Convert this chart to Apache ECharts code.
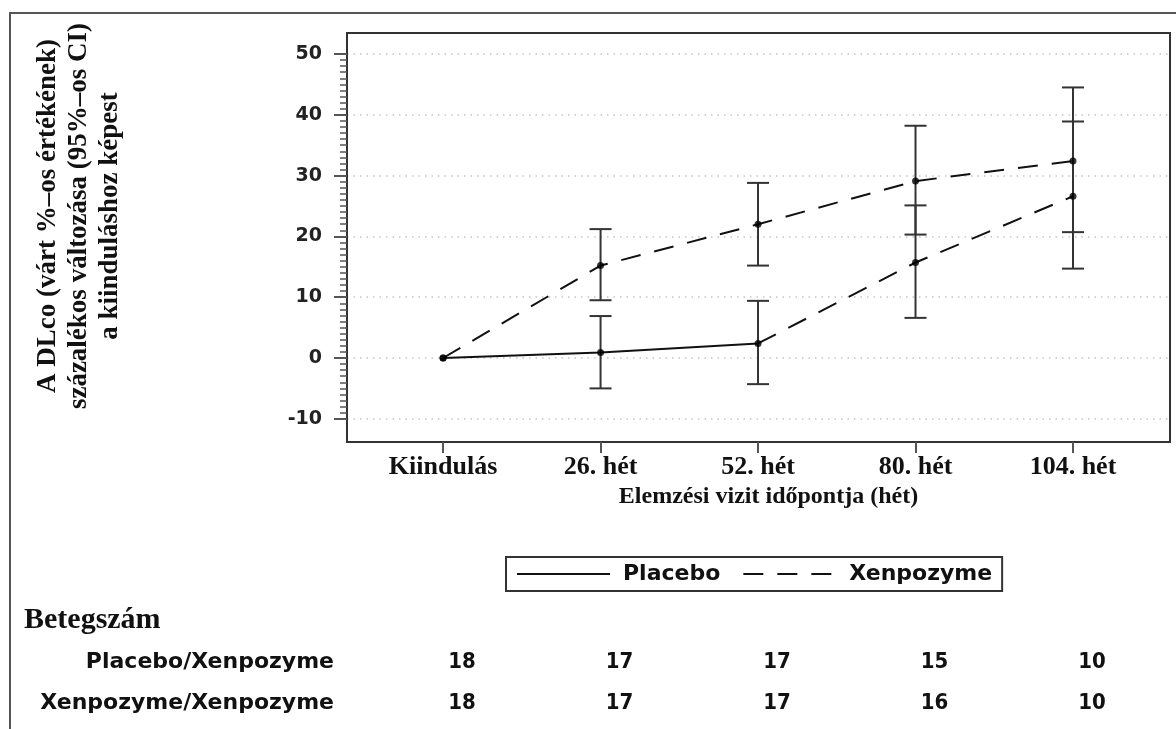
<!DOCTYPE html>
<html>
<head>
<meta charset="utf-8">
<script src="https://cdn.jsdelivr.net/npm/echarts@6/dist/echarts.min.js"></script>
<style>
  html, body { margin: 0; padding: 0; background: #fff; }
  #chart { width: 1176px; height: 729px; }
</style>
</head>
<body>
<div id="chart"></div>
<script>
// visits on the x axis
const visits = ['Kiindulás', '26. hét', '52. hét', '80. hét', '104. hét'];
const yTicks = [-10, 0, 10, 20, 30, 40, 50];

// Placebo/Xenpozyme group (switches to Xenpozyme after week 52)
const placeboMean = [0, 0.9, 2.4, 15.7, 26.6];
const placeboLow = [null, -5.0, -4.3, 6.6, 14.7];
const placeboHigh = [null, 6.9, 9.4, 25.1, 38.9];

// Xenpozyme/Xenpozyme group
const xenMean = [0, 15.2, 22.0, 29.1, 32.4];
const xenLow = [null, 9.5, 15.2, 20.3, 20.7];
const xenHigh = [null, 21.2, 28.8, 38.2, 44.5];

// patient counts table
const tableRows = ['Placebo/Xenpozyme', 'Xenpozyme/Xenpozyme'];
const placeboCounts = [18, 17, 17, 15, 10];
const xenCounts = [18, 17, 17, 16, 10];

const serif = "'Liberation Serif', 'Times New Roman', serif";
const sans = "'DejaVu Sans', sans-serif";
const sansNarrow = "'DejaVu Sans Condensed', 'Liberation Sans Narrow', 'DejaVu Sans', sans-serif";
const dash = [20, 14];

const chart = echarts.init(document.getElementById('chart'));

const toPoints = (arr, from, to) =>
    arr.map((v, i) => [i, v]).slice(from, to);

const errData = [];
visits.forEach((v, i) => {
    if (placeboLow[i] !== null) errData.push([i, placeboLow[i], placeboHigh[i]]);
    if (xenLow[i] !== null) errData.push([i, xenLow[i], xenHigh[i]]);
});

function renderErrorBar(params, api) {
    const x = api.value(0);
    const lo = api.coord([x, api.value(1)]);
    const hi = api.coord([x, api.value(2)]);
    const w = 11;
    const style = { stroke: '#333', lineWidth: 2 };
    return {
        type: 'group',
        children: [
            { type: 'line', shape: { x1: lo[0], y1: lo[1], x2: hi[0], y2: hi[1] }, style: style },
            { type: 'line', shape: { x1: hi[0] - w, y1: hi[1], x2: hi[0] + w, y2: hi[1] }, style: style },
            { type: 'line', shape: { x1: lo[0] - w, y1: lo[1], x2: lo[0] + w, y2: lo[1] }, style: style }
        ]
    };
}

const option = {
    animation: false,
    backgroundColor: '#fff',
    grid: { left: 347, right: 6, top: 54, bottom: 310.2 },
    legend: {
        data: ['Placebo', 'Xenpozyme'],
        left: 506,
        top: 557,
        padding: [6, 10, 6, 10],
        borderColor: '#333',
        borderWidth: 2,
        itemWidth: 93,
        itemHeight: 14,
        itemGap: 22,
        itemStyle: { opacity: 0 },
        textStyle: { fontFamily: sans, fontWeight: 'bold', fontSize: 22, color: '#111', padding: [0, 0, 0, 8] }
    },
    xAxis: {
        type: 'value',
        min: -0.61,
        max: 4.616,
        offset: 23.2,
        axisLine: { show: false, onZero: false },
        splitLine: { show: false },
        axisTick: { customValues: [0, 1, 2, 3, 4], length: 11, lineStyle: { color: '#555', width: 2 } },
        axisLabel: {
            customValues: [0, 1, 2, 3, 4],
            formatter: v => visits[v],
            margin: 12,
            fontFamily: serif,
            fontWeight: 'bold',
            fontSize: 26,
            color: '#111'
        },
        name: 'Elemzési vizit időpontja (hét)',
        nameLocation: 'middle',
        nameGap: 42,
        nameTextStyle: { fontFamily: serif, fontWeight: 'bold', fontSize: 24, color: '#111', padding: [0, 0, 0, 20] }
    },
    yAxis: {
        type: 'value',
        min: -10,
        max: 50,
        interval: 10,
        axisLine: { show: false, onZero: false },
        axisTick: { show: true, length: 13, lineStyle: { color: '#555', width: 2 } },
        minorTick: { show: true, splitNumber: 10, length: 7, lineStyle: { color: '#555', width: 1.5 } },
        splitLine: { show: true, lineStyle: { color: '#c4c4c4', width: 1.5, type: [1.5, 5] } },
        axisLabel: {
            margin: 25,
            fontFamily: sans,
            fontWeight: 'bold',
            fontSize: 19,
            color: '#222',
            formatter: v => (yTicks.indexOf(v) >= 0 ? String(v) : '')
        }
    },
    series: [
        {
            name: 'Placebo',
            type: 'line',
            symbol: 'none',
            data: toPoints(placeboMean, 0, 3),
            lineStyle: { color: '#111', width: 2 },
            itemStyle: { color: '#111' },
            z: 3
        },
        {
            name: 'Placebo (váltás)',
            type: 'line',
            symbol: 'none',
            data: toPoints(placeboMean, 2, 5),
            lineStyle: { color: '#111', width: 2, type: dash },
            z: 3
        },
        {
            name: 'Xenpozyme',
            type: 'line',
            symbol: 'none',
            data: toPoints(xenMean, 0, 5),
            lineStyle: { color: '#111', width: 2, type: dash },
            itemStyle: { color: '#111' },
            z: 3
        },
        {
            name: 'pontok',
            type: 'scatter',
            symbol: 'circle',
            symbolSize: 7,
            itemStyle: { color: '#000' },
            data: toPoints(placeboMean, 0, 5).concat(toPoints(xenMean, 0, 5)),
            z: 5
        },
        {
            name: 'CI',
            type: 'custom',
            renderItem: renderErrorBar,
            data: errData,
            z: 2
        }
    ]
};

chart.setOption(option);

// frame, titles and the patient count table
const graphics = [
    { type: 'rect', shape: { x: 10, y: 13, width: 1200, height: 800 }, style: { fill: null, stroke: '#555', lineWidth: 2 }, silent: true },
    { type: 'rect', shape: { x: 347, y: 33, width: 823, height: 409 }, style: { fill: null, stroke: '#333', lineWidth: 2 }, silent: true },
    {
        type: 'text',
        x: 79,
        y: 216,
        rotation: Math.PI / 2,
        style: {
            text: 'A DLco (várt %–os értékének)\nszázalékos változása (95%–os CI)\na kiinduláshoz képest',
            font: "bold 27px " + serif,
            fill: '#111',
            align: 'center',
            verticalAlign: 'middle',
            lineHeight: 31
        }
    },
    {
        type: 'text', x: 24, y: 620,
        style: { text: 'Betegszám', font: 'bold 30px ' + serif, fill: '#111', align: 'left', verticalAlign: 'middle' }
    }
];

const rowY = [662, 703];
const counts = [placeboCounts, xenCounts];
tableRows.forEach((label, r) => {
    graphics.push({
        type: 'text', x: 334, y: rowY[r],
        style: { text: label, font: 'bold 22px ' + sans, fill: '#111', align: 'right', verticalAlign: 'middle' }
    });
    counts[r].forEach((n, i) => {
        const px = chart.convertToPixel({ xAxisIndex: 0 }, i);
        graphics.push({
            type: 'text', x: px + 19, y: rowY[r],
            style: { text: String(n), font: 'bold 22px ' + sansNarrow, fill: '#111', align: 'center', verticalAlign: 'middle' }
        });
    });
});

chart.setOption({ graphic: graphics });
</script>
</body>
</html>
